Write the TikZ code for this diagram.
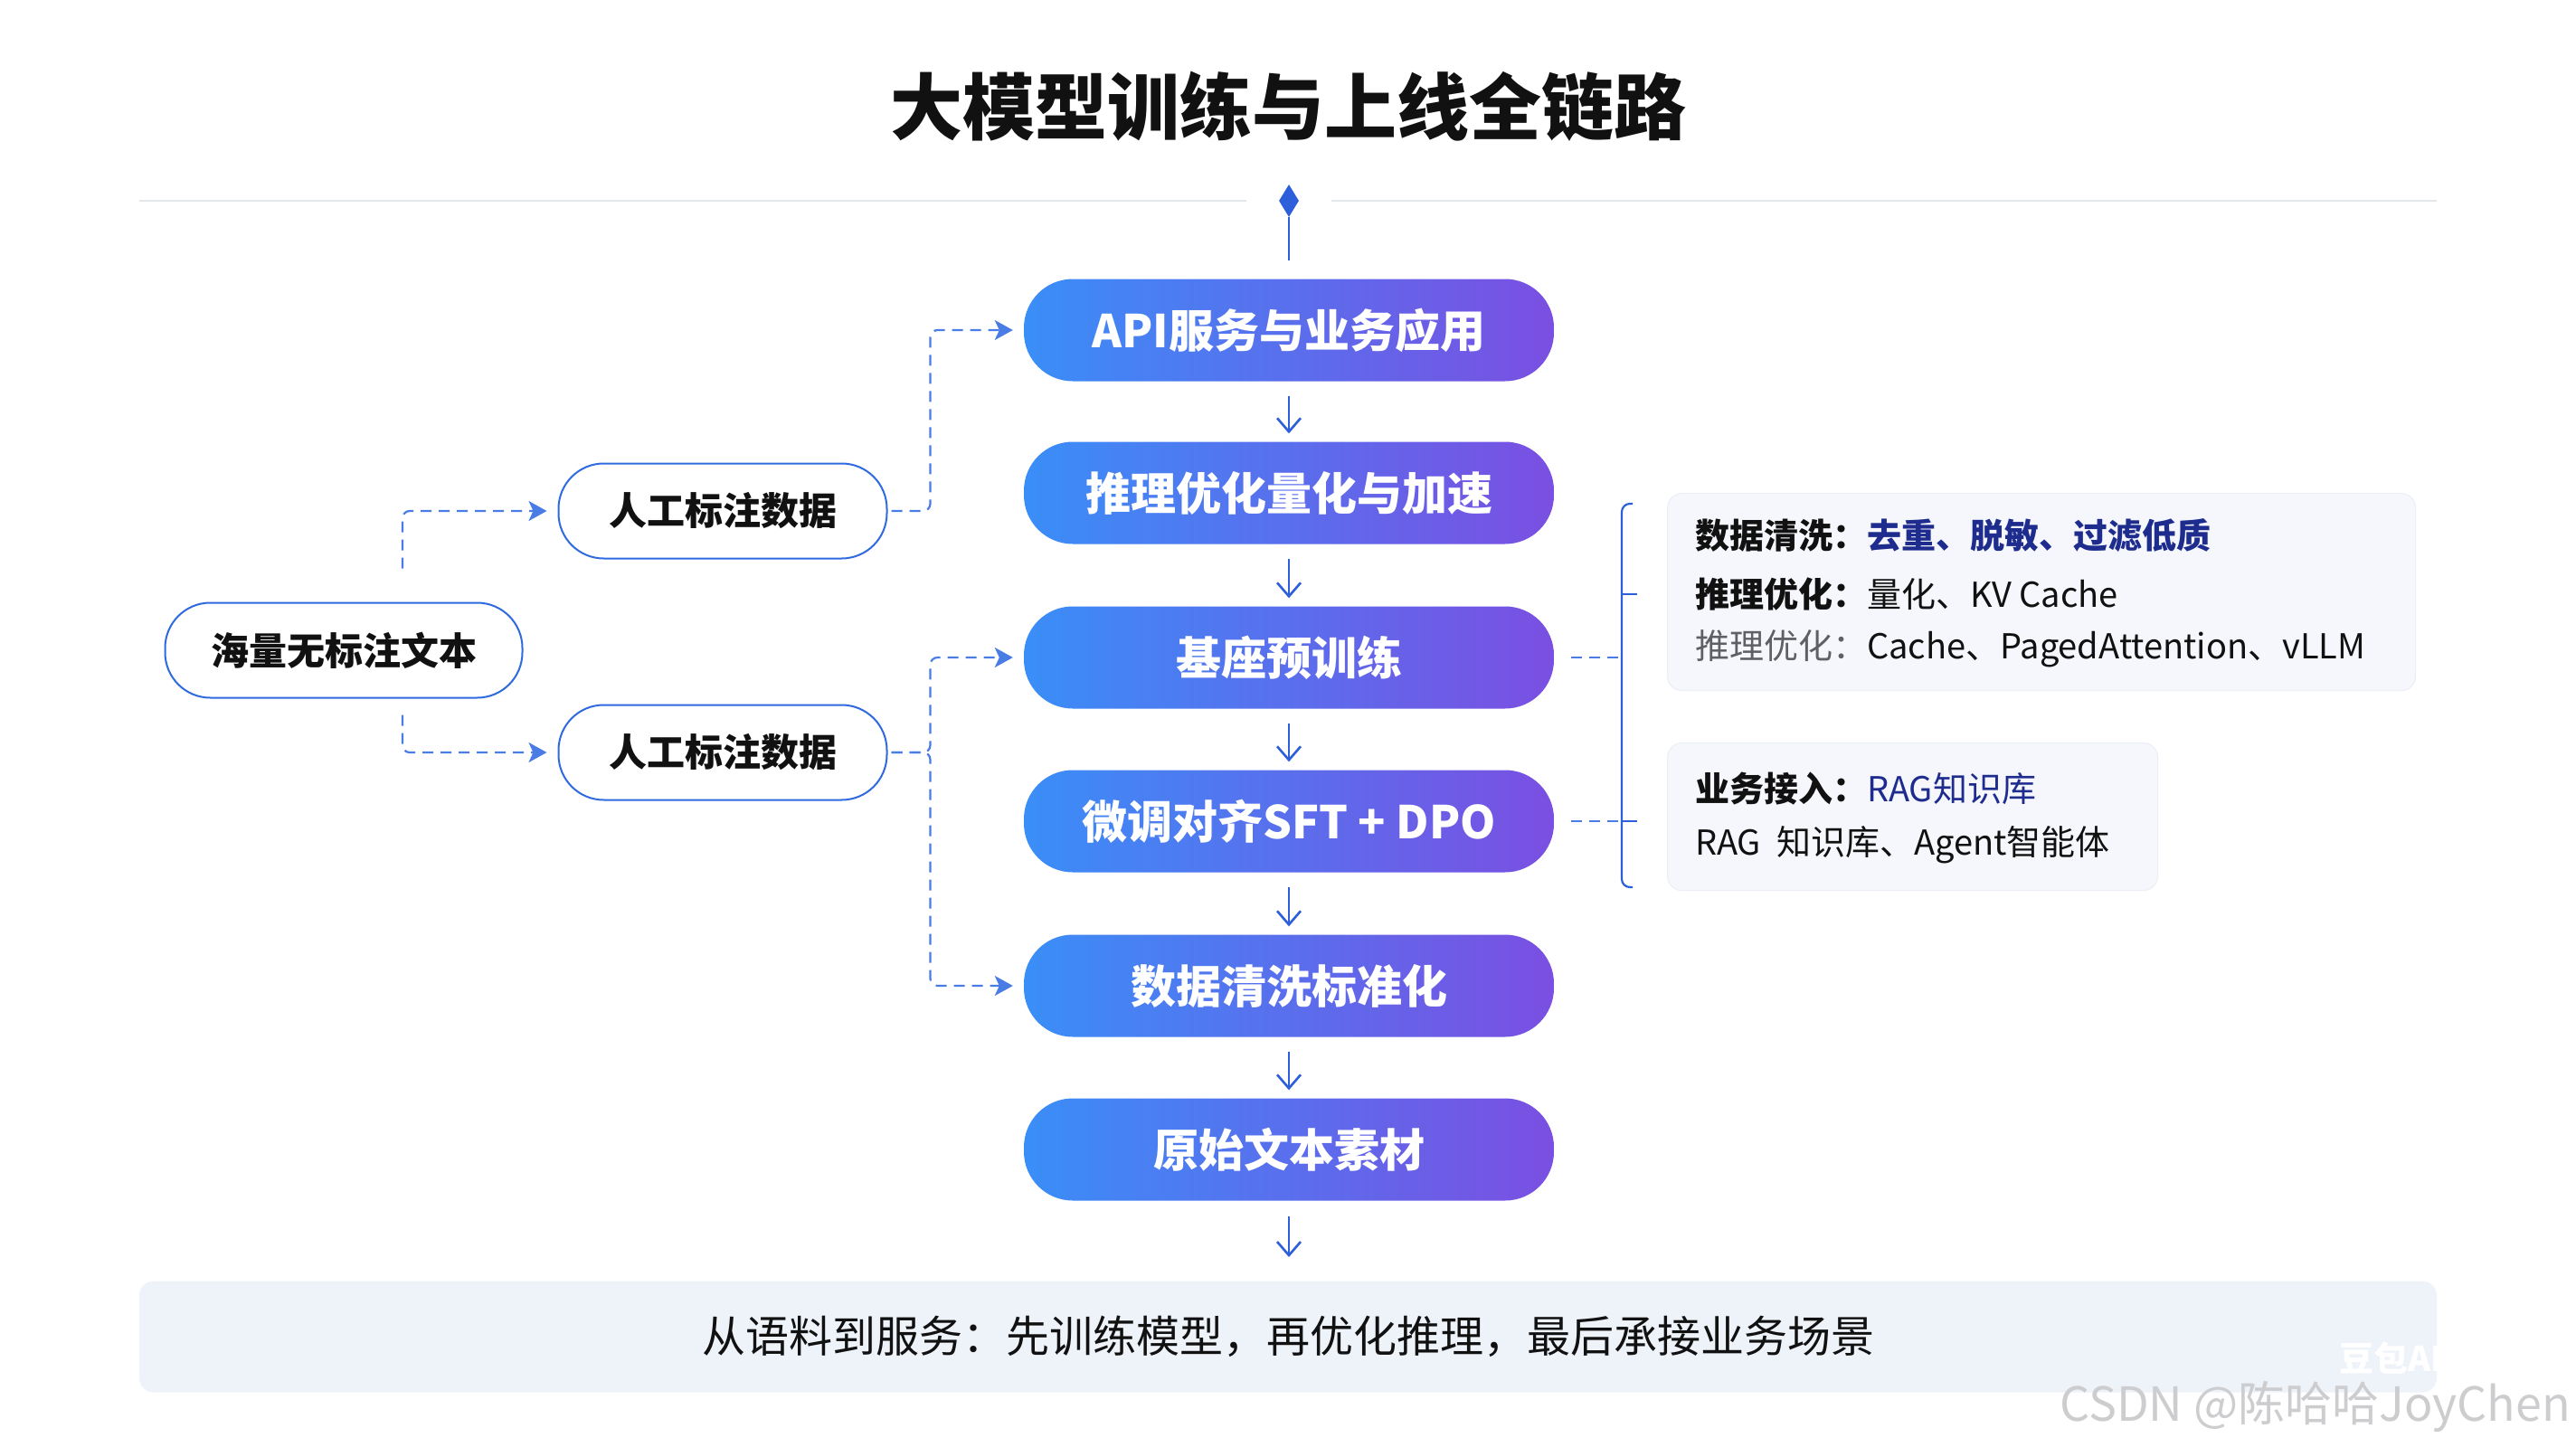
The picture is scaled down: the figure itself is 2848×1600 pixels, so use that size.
\documentclass[tikz,border=0pt]{standalone}
\usepackage{fontspec}
\setmainfont{Noto Sans CJK SC}
\usetikzlibrary{arrows.meta,shapes.geometric,calc}
\definecolor{boxL}{HTML}{3A8EF7}
\definecolor{boxR}{HTML}{7A4FE2}
\definecolor{lblue}{HTML}{2D5FDB}
\definecolor{dblue}{HTML}{4A7CE6}
\definecolor{wborder}{HTML}{2F6BDF}
\definecolor{navy}{HTML}{1E2C8E}
\definecolor{cardfill}{HTML}{F5F7FC}
\definecolor{cardline}{HTML}{ECEFF6}
\definecolor{bannerfill}{HTML}{EEF2F9}
\definecolor{sepline}{HTML}{E3E7EE}
\definecolor{graytxt}{HTML}{5F5F66}
\definecolor{wmgray}{HTML}{CDCDD0}
\definecolor{txtblack}{HTML}{111111}
\newcommand\fsz[1]{\fontsize{#1}{#1}\selectfont}
\begin{document}
\begin{tikzpicture}[x=1pt,y=-1pt,
 mainbox/.style={rounded corners=54, minimum width=586, minimum height=113, left color=boxL, right color=boxR, text=white, font=\fsz{50}\bfseries, inner sep=0},
 srcbox/.style={rounded corners=50, minimum width=363, minimum height=105, draw=wborder, line width=2, fill=white, text=txtblack, font=\fsz{42}\bfseries, inner sep=0},
 flow/.style={draw=lblue, line width=2.6, -{Straight Barb[length=15,width=26]}},
 dconn/.style={draw=dblue, line width=2.2, dash pattern=on 12 off 8, rounded corners=8, -{Stealth[length=20,width=22,inset=5]}},
 dline/.style={draw=dblue, line width=2.2, dash pattern=on 12 off 8},
 brk/.style={draw=lblue, line width=2.2},
 card/.style={fill=cardfill, draw=cardline, line width=1.2, rounded corners=16, inner sep=0},
 cardtxt/.style={anchor=west, inner sep=0, text=txtblack, font=\fsz{38}},
]
\fill[white] (0,0) rectangle (2848,1600);
\useasboundingbox (0,0) rectangle (2848,1600);

% title and separator
\node[font=\fsz{80}\bfseries, text=txtblack] (title) at (1424,118) {大模型训练与上线全链路};
\draw[sepline, line width=2.5] (154,222) -- (1378,222);
\draw[sepline, line width=2.5] (1472,222) -- (2694,222);
\node[diamond, fill=lblue, minimum width=22, minimum height=36, inner sep=0] (dm) at (1425,222) {};

% main column
\node[mainbox] (b1) at (1425,365) {API服务与业务应用};
\node[mainbox] (b2) at (1425,545) {推理优化量化与加速};
\node[mainbox] (b3) at (1425,727) {基座预训练};
\node[mainbox] (b4) at (1425,908) {微调对齐SFT + DPO};
\node[mainbox] (b5) at (1425,1090) {数据清洗标准化};
\node[mainbox] (b6) at (1425,1271) {原始文本素材};
\coordinate (bend) at (1425,1390);

\draw[lblue, line width=2.6] (dm.south) -- ([yshift=20]b1.north);
\draw[flow, shorten <=16, shorten >=9] (b1.south) -- (b2.north);
\draw[flow, shorten <=16, shorten >=9] (b2.south) -- (b3.north);
\draw[flow, shorten <=16, shorten >=9] (b3.south) -- (b4.north);
\draw[flow, shorten <=16, shorten >=9] (b4.south) -- (b5.north);
\draw[flow, shorten <=16, shorten >=9] (b5.south) -- (b6.north);
\draw[flow, shorten <=17] (b6.south) -- (bend);

% left sources
\node[srcbox, minimum width=395] (hl) at (380,719) {海量无标注文本};
\node[srcbox] (rg1) at (799,565) {人工标注数据};
\node[srcbox] (rg2) at (799,832) {人工标注数据};

\draw[dconn, shorten >=12] ([xshift=65,yshift=37]hl.north) |- (rg1.west);
\draw[dconn, shorten >=12] ([xshift=65,yshift=-18]hl.south) |- (rg2.west);
\draw[dconn, shorten >=12, shorten <=4] (rg1.east) -- ++(47,0) |- (b1.west);
\draw[dconn, shorten >=12, shorten <=4] (rg2.east) -- ++(47,0) |- (b3.west);
\draw[dconn, shorten >=12, shorten <=4] (rg2.east) -- ++(47,0) |- (b5.west);

% right bracket
\coordinate (bx) at (1793,0);
\draw[dline] ([xshift=19]b3.east) -- (b3.east -| bx);
\draw[dline] ([xshift=19]b4.east) -- (b4.east -| bx);
\draw[brk, rounded corners=9] (1805,557) -- (1793,557) -- (1793,981) -- (1805,981);
\draw[brk] (1793,657) -- (1810,657);
\draw[brk] (1793,908) -- (1810,908);

% cards
\node[card, minimum width=827, minimum height=218, anchor=north west] (c1) at (1843,545) {};
\node[card, minimum width=542, minimum height=163, anchor=north west] (c2) at (1843,821) {};
\node[cardtxt] (c1a) at (1874,592) {\textbf{数据清洗：}\textcolor{navy}{\textbf{去重、脱敏、过滤低质}}};
\node[cardtxt] (c1b) at (1874,657) {\textbf{推理优化：}量化、KV Cache};
\node[cardtxt] (c1c) at (1874,717) {\textcolor{graytxt}{推理优化：}Cache、PagedAttention、vLLM};
\node[cardtxt] (c2a) at (1874,872) {\textbf{业务接入：}\textcolor{navy}{RAG知识库}};
\node[cardtxt] (c2b) at (1874,934) {RAG\ \ 知识库、Agent智能体};

% banner
\node[fill=bannerfill, rounded corners=16, minimum width=2540, minimum height=123, inner sep=0, font=\fsz{48}, text=txtblack] (bn) at (1424,1478) {从语料到服务：先训练模型，再优化推理，最后承接业务场景};

% watermark
\node[font=\fsz{38}\bfseries, text=white, inner sep=0] (wm1) at (2682,1502) {豆包AI生成};
\node[font=\fsz{52}, text=wmgray, anchor=east, inner sep=0] (wm2) at (2842,1556) {CSDN @陈哈哈JoyChen};
\end{tikzpicture}
\end{document}
